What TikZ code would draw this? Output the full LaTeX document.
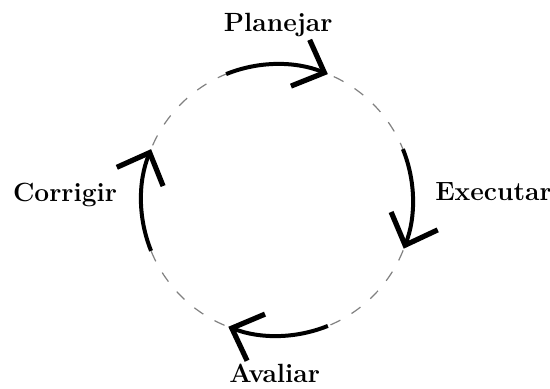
\documentclass[tikz,border=0pt]{standalone}
\usepackage{tikz}
\usetikzlibrary{arrows.meta}

\tikzset{
  stage/.style={font=\fontsize{13.2}{16}\selectfont\bfseries, inner sep=0pt, anchor=base},
  cycle/.style={gray, line width=0.6pt, dash pattern=on 5.5pt off 6.5pt},
  flow/.style={line width=2pt, -{Straight Barb[length=13pt,width=25pt,line width=2.6pt]}}
}

\begin{document}
\begin{tikzpicture}
\useasboundingbox (-4.875,-3.326) rectangle (4.805,3.52);
\draw[cycle] (0,0) circle (2.39);
% the four steps of the cycle
\node[stage] (planejar) at (0.02,2.957) {Planejar};
\node[stage] (executar) at (3.81,0) {Executar};
\node[stage] (avaliar) at (-0.04,-3.22) {Avaliar};
\node[stage] (corrigir) at (-3.73,-0.035) {Corrigir};
% arrows along the circle
\coordinate (p0) at (112:2.39);
\coordinate (e0) at (22:2.39);
\coordinate (a0) at (-68:2.39);
\coordinate (c0) at (-158:2.39);
\draw[flow] (p0) arc[start angle=112, end angle=68, radius=2.39];
\draw[flow] (e0) arc[start angle=22, end angle=-21, radius=2.39];
\draw[flow] (a0) arc[start angle=-68, end angle=-111, radius=2.39];
\draw[flow] (c0) arc[start angle=-158, end angle=-202, radius=2.39];
\end{tikzpicture}
\end{document}
